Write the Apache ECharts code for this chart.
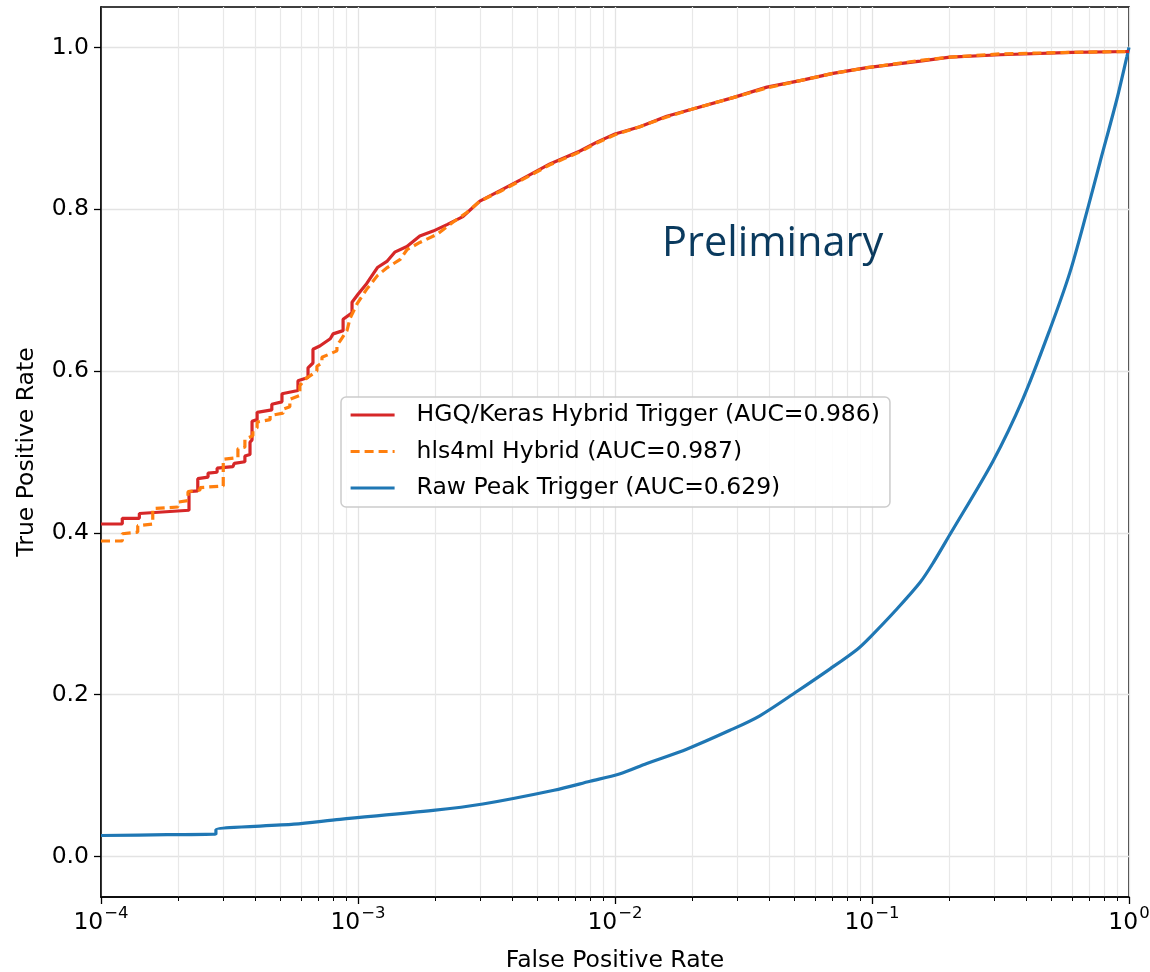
<!DOCTYPE html>
<html>
<head>
<meta charset="utf-8">
<script src="https://cdn.jsdelivr.net/npm/echarts@6/dist/echarts.min.js"></script>
<style>
  html, body { margin: 0; padding: 0; background: #fff; }
  #chart { width: 1150px; height: 972px; }
</style>
</head>
<body>
<div id="chart"></div>
<script>
// ROC curves (FPR on log axis, TPR linear)
var hgqFpr = [1.0e-4, 1.21e-4, 1.21e-4, 1.41e-4, 1.41e-4, 2.2e-4, 2.2e-4, 2.38e-4, 2.38e-4, 2.61e-4, 2.61e-4, 2.83e-4, 2.83e-4, 3.26e-4, 3.3e-4, 3.63e-4, 3.63e-4, 3.8e-4, 3.8e-4, 3.87e-4, 3.87e-4, 4.05e-4, 4.05e-4, 4.62e-4, 4.62e-4, 5.06e-4, 5.06e-4, 5.84e-4, 5.84e-4, 6.39e-4, 6.39e-4, 6.68e-4, 6.68e-4, 7.1e-4, 7.8e-4, 8.0e-4, 8.75e-4, 8.75e-4, 9.48e-4, 9.48e-4, 1.0e-3, 1.08e-3, 1.19e-3, 1.30e-3, 1.39e-3, 1.55e-3, 1.74e-3, 1.96e-3, 2.22e-3, 2.56e-3, 2.98e-3, 3.57e-3, 4.27e-3, 5.58e-3, 7.31e-3, 8.5e-3, 1.0e-2, 1.25e-2, 1.59e-2, 1.96e-2, 2.88e-2, 3.90e-2, 5.25e-2, 7.05e-2, 9.57e-2, 0.154, 0.201, 0.315, 0.6, 1.0];
var hgqTpr = [0.411, 0.411, 0.418, 0.418, 0.424, 0.428, 0.451, 0.452, 0.467, 0.469, 0.474, 0.475, 0.480, 0.482, 0.486, 0.488, 0.495, 0.497, 0.512, 0.515, 0.538, 0.540, 0.549, 0.552, 0.559, 0.562, 0.572, 0.576, 0.588, 0.592, 0.604, 0.610, 0.627, 0.631, 0.640, 0.646, 0.650, 0.664, 0.672, 0.685, 0.695, 0.708, 0.728, 0.736, 0.747, 0.754, 0.767, 0.773, 0.781, 0.791, 0.810, 0.823, 0.836, 0.856, 0.872, 0.883, 0.893, 0.902, 0.915, 0.923, 0.938, 0.951, 0.959, 0.968, 0.975, 0.983, 0.988, 0.991, 0.994, 0.995];

var hlsFpr = [1.0e-4, 1.21e-4, 1.21e-4, 1.39e-4, 1.39e-4, 1.59e-4, 1.59e-4, 1.99e-4, 1.99e-4, 2.18e-4, 2.18e-4, 2.43e-4, 2.43e-4, 2.99e-4, 2.99e-4, 3.41e-4, 3.41e-4, 3.63e-4, 3.63e-4, 3.90e-4, 3.90e-4, 4.05e-4, 4.05e-4, 4.55e-4, 4.55e-4, 5.11e-4, 5.11e-4, 5.43e-4, 5.43e-4, 5.94e-4, 5.94e-4, 6.22e-4, 6.92e-4, 6.92e-4, 7.24e-4, 7.24e-4, 8.28e-4, 8.28e-4, 8.51e-4, 9.06e-4, 9.31e-4, 9.91e-4, 1.08e-3, 1.19e-3, 1.30e-3, 1.46e-3, 1.55e-3, 1.74e-3, 2.03e-3, 2.34e-3, 2.65e-3, 2.98e-3, 3.57e-3, 4.27e-3, 5.58e-3, 7.31e-3, 8.5e-3, 1.0e-2, 1.25e-2, 1.59e-2, 1.96e-2, 2.88e-2, 3.90e-2, 5.25e-2, 7.05e-2, 9.57e-2, 0.154, 0.201, 0.315, 0.6, 1.0];
var hlsTpr = [0.390, 0.390, 0.399, 0.401, 0.409, 0.411, 0.430, 0.432, 0.438, 0.440, 0.451, 0.453, 0.456, 0.458, 0.491, 0.493, 0.504, 0.506, 0.516, 0.520, 0.526, 0.530, 0.537, 0.540, 0.545, 0.548, 0.553, 0.556, 0.565, 0.570, 0.582, 0.590, 0.600, 0.606, 0.610, 0.617, 0.625, 0.632, 0.637, 0.650, 0.665, 0.683, 0.701, 0.718, 0.728, 0.738, 0.750, 0.759, 0.769, 0.784, 0.796, 0.810, 0.822, 0.835, 0.855, 0.871, 0.882, 0.892, 0.902, 0.914, 0.923, 0.938, 0.950, 0.959, 0.968, 0.975, 0.984, 0.988, 0.992, 0.994, 0.995];

var rawFpr = [1.0e-4, 1.81e-4, 2.8e-4, 2.8e-4, 5.63e-4, 8.51e-4, 1.96e-3, 3.06e-3, 5.79e-3, 8.0e-3, 1.04e-2, 1.33e-2, 1.91e-2, 2.80e-2, 3.66e-2, 5.10e-2, 6.87e-2, 8.75e-2, 0.0982, 0.125, 0.154, 0.173, 0.201, 0.296, 0.387, 0.493, 0.589, 0.687, 0.771, 0.897, 0.982, 1.0];
var rawTpr = [0.026, 0.027, 0.028, 0.033, 0.040, 0.046, 0.057, 0.065, 0.082, 0.093, 0.102, 0.115, 0.133, 0.156, 0.174, 0.204, 0.232, 0.256, 0.271, 0.306, 0.339, 0.363, 0.398, 0.489, 0.566, 0.652, 0.722, 0.798, 0.858, 0.936, 0.989, 1.0];

var seriesNames = ['HGQ/Keras Hybrid Trigger (AUC=0.986)', 'hls4ml Hybrid (AUC=0.987)', 'Raw Peak Trigger (AUC=0.629)'];
var yTicks = [0, 0.2, 0.4, 0.6, 0.8, 1.0];

function zip(xs, ys){
	var out = [];
	for (var i = 0; i < xs.length; i++) {
		out.push([xs[i], ys[i]]);
	}
	return out;
}

// 10^n label as rich text, exponent raised and smaller
function powLabel(v){
	var e = Math.round(Math.log10(v));
	var s = e < 0 ? '\u2212' + (-e) : String(e);
	return '{b|10}{e|' + s + '}';
}

var font = '"DejaVu Sans", sans-serif';
var fs = 23.5;
var chart = echarts.init(document.getElementById('chart'));

var option = {
	backgroundColor: '#ffffff',
	animation: false,
	grid: {
		left: 101, right: 21, top: 7, bottom: 75,
		outerBoundsMode: 'none',
		containLabel: false,
		show: true, borderColor: '#000', borderWidth: 1.5, backgroundColor: 'transparent'
	},
	xAxis: {
		type: 'log',
		logBase: 10,
		min: 1e-4,
		max: 1,
		name: 'False Positive Rate',
		nameLocation: 'middle',
		nameGap: 52,
		nameTextStyle: { fontFamily: font, fontSize: fs, color: '#000' },
		axisLine: { show: true, onZero: false, lineStyle: { color: '#000', width: 1.5 } },
		axisTick: { show: true, length: 7, lineStyle: { color: '#000', width: 1.3 } },
		minorTick: { show: true, splitNumber: 9, length: 4, lineStyle: { color: '#000', width: 1 } },
		axisLabel: {
			color: '#000', margin: 8, formatter: powLabel,
			rich: {
				b: { fontFamily: font, fontSize: fs, color: '#000', lineHeight: 30, verticalAlign: 'bottom' },
				e: { fontFamily: font, fontSize: 16.5, color: '#000', lineHeight: 30, verticalAlign: 'top', padding: [0, 0, 0, 1] }
			}
		},
		splitLine: { show: true, lineStyle: { color: '#e3e3e3', width: 1.3 } },
		minorSplitLine: { show: true, lineStyle: { color: '#e8e8e8', width: 1.2 } }
	},
	yAxis: {
		type: 'value',
		min: -0.05,
		max: 1.05,
		name: 'True Positive Rate',
		nameLocation: 'middle',
		nameGap: 62,
		nameTextStyle: { fontFamily: font, fontSize: fs, color: '#000' },
		axisLine: { show: true, onZero: false, lineStyle: { color: '#000', width: 1.5 } },
		axisTick: { show: true, length: 7, customValues: yTicks, lineStyle: { color: '#000', width: 1.3 } },
		axisLabel: {
			fontFamily: font, fontSize: fs, color: '#000', margin: 12,
			customValues: yTicks,
			formatter: function(v){ return v.toFixed(1); }
		},
		splitLine: { show: true, lineStyle: { color: '#e3e3e3', width: 1.3 } }
	},
	legend: {
		orient: 'vertical',
		left: 341,
		top: 397,
		padding: [5, 10, 6, 8],
		itemGap: 10.5,
		itemWidth: 44,
		itemHeight: 14,
		backgroundColor: 'rgba(255,255,255,0.85)',
		borderColor: '#cccccc',
		borderWidth: 1.5,
		borderRadius: 5,
		itemStyle: { opacity: 0 },
		lineStyle: { width: 3.2 },
		textStyle: { fontFamily: font, fontSize: fs, color: '#000', lineHeight: 26, padding: [0, 0, 0, 17] },
		data: [seriesNames[0], seriesNames[1], seriesNames[2]]
	},
	graphic: [
		{
			type: 'text',
			left: 662,
			top: 223,
			z: 100,
			style: { text: 'Preliminary', font: '41.5px "Open Sans", sans-serif', fill: '#0a3a5e' }
		}
	],
	series: [
		{
			name: seriesNames[2],
			type: 'line',
			data: zip(rawFpr, rawTpr),
			showSymbol: false,
			symbol: 'none',
			smooth: 0.3,
			z: 2,
			lineStyle: { color: '#1f77b4', width: 3.2 },
			itemStyle: { color: '#1f77b4' }
		},
		{
			name: seriesNames[0],
			type: 'line',
			data: zip(hgqFpr, hgqTpr),
			showSymbol: false,
			symbol: 'none',
			z: 3,
			lineStyle: { color: '#d62728', width: 3.2 },
			itemStyle: { color: '#d62728' }
		},
		{
			name: seriesNames[1],
			type: 'line',
			data: zip(hlsFpr, hlsTpr),
			showSymbol: false,
			symbol: 'none',
			z: 4,
			lineStyle: { color: '#ff7f0e', width: 3.2, type: [9, 5] },
			itemStyle: { color: '#ff7f0e' }
		}
	]
};
chart.setOption(option);
</script>
</body>
</html>
